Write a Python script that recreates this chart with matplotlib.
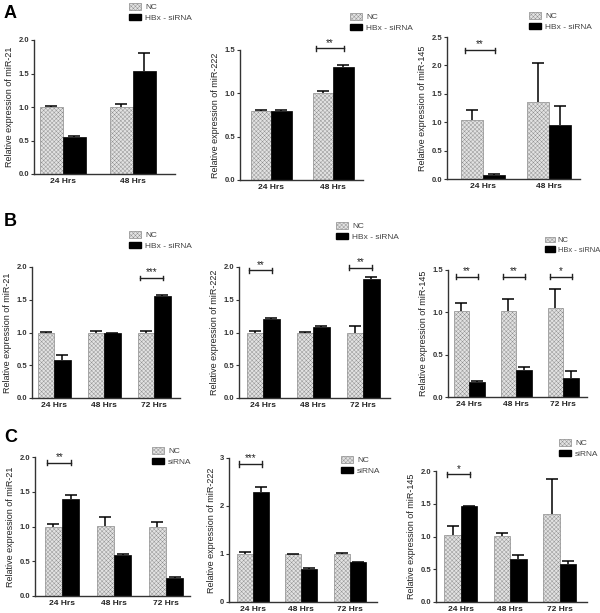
import matplotlib
matplotlib.use('Agg')
import matplotlib.pyplot as plt
from matplotlib.patches import Patch
import numpy as np

plt.rcParams['font.family'] = ['Liberation Sans', 'DejaVu Sans']
plt.rcParams['hatch.linewidth'] = 0.3
plt.rcParams['hatch.color'] = '#a8a8a8'

# ---- data ----
hrs2 = ['24 Hrs', '48 Hrs']
hrs3 = ['24 Hrs', '48 Hrs', '72 Hrs']

# panel A
a21_nc = [1.0, 1.0];   a21_nc_err = [0.01, 0.04]
a21_si = [0.55, 1.53]; a21_si_err = [0.01, 0.28]
a222_nc = [0.80, 1.00]; a222_nc_err = [0.01, 0.03]
a222_si = [0.80, 1.30]; a222_si_err = [0.01, 0.03]
a145_nc = [1.03, 1.35]; a145_nc_err = [0.18, 0.69]
a145_si = [0.07, 0.95]; a145_si_err = [0.01, 0.33]

# panel B
b21_nc = [1.0, 1.0, 1.0];    b21_nc_err = [0.01, 0.02, 0.03]
b21_si = [0.58, 0.99, 1.55]; b21_si_err = [0.07, 0.005, 0.02]
b222_nc = [1.0, 1.0, 1.0];    b222_nc_err = [0.02, 0.01, 0.10]
b222_si = [1.21, 1.08, 1.81]; b222_si_err = [0.01, 0.02, 0.03]
b145_nc = [1.01, 1.02, 1.05]; b145_nc_err = [0.10, 0.14, 0.22]
b145_si = [0.18, 0.32, 0.23]; b145_si_err = [0.01, 0.03, 0.08]

# panel C
c21_nc = [1.0, 1.01, 1.0];   c21_nc_err = [0.03, 0.12, 0.06]
c21_si = [1.40, 0.59, 0.26]; c21_si_err = [0.06, 0.01, 0.01]
c222_nc = [1.0, 1.0, 1.0];    c222_nc_err = [0.05, 0.01, 0.03]
c222_si = [2.30, 0.68, 0.83]; c222_si_err = [0.10, 0.02, 0.01]
c145_nc = [1.02, 1.01, 1.34]; c145_nc_err = [0.14, 0.04, 0.54]
c145_si = [1.46, 0.66, 0.58]; c145_si_err = [0.01, 0.06, 0.05]

W, H = 600, 613
fig = plt.figure(figsize=(6.0, 6.13), dpi=100)
bw = 0.33
nc_face = '#e2e2e2'
nc_edge = '#8c8c8c'


def rect(l, r, t, b):
    return [l / W, 1 - b / H, (r - l) / W, (b - t) / H]


def up_err(ax, x, y, e):
    eb = ax.errorbar(x, y, yerr=[np.zeros(len(y)), e], fmt='none',
                     ecolor='black', elinewidth=1.1, capsize=4, capthick=1.1,
                     zorder=3)
    eb[1][0].set_visible(False)   # hide lower cap


def panel(box, xlim, labels, nc, nce, si, sie, ymax, yticks, ytl, mir,
          sig, legpos, silabel, legfs=6):
    ax = fig.add_axes(rect(*box))
    x = np.arange(len(labels))
    ax.bar(x - bw / 2, nc, bw, color=nc_face, edgecolor=nc_edge,
           linewidth=0.5, hatch='xxxxxxxx', zorder=2)
    ax.bar(x + bw / 2, si, bw, color='black', edgecolor='black',
           linewidth=0.5, zorder=2)
    up_err(ax, x - bw / 2, nc, nce)
    up_err(ax, x + bw / 2, si, sie)
    ax.set_xlim(*xlim)
    ax.set_ylim(0, ymax)
    ax.set_yticks(yticks)
    ax.set_yticklabels(ytl, fontsize=5.5, fontweight='bold', color='#333333')
    ax.set_xticks(x)
    ax.set_xticklabels(labels, fontsize=6, fontweight='bold', color='#222222')
    ax.tick_params(axis='x', length=0, pad=3)
    ax.tick_params(axis='y', length=2.5, width=0.8, pad=1, color='#333333')
    for s in ['top', 'right']:
        ax.spines[s].set_visible(False)
    for s in ['left', 'bottom']:
        ax.spines[s].set_linewidth(1.0)
        ax.spines[s].set_color('#333333')
    ax.set_ylabel('Relative expression of ' + mir, fontsize=6.5,
                  color='#222222', labelpad=3)
    for i, yb, stars in sig:
        x0, x1 = i - 0.85 * bw, i + 0.55 * bw
        ax.plot([x0, x1], [yb, yb], color='#222222', lw=1.0, clip_on=False)
        d = ymax * 0.018
        ax.plot([x0, x0], [yb - d, yb + d], color='#222222', lw=1.0, clip_on=False)
        ax.plot([x1, x1], [yb - d, yb + d], color='#222222', lw=1.0, clip_on=False)
        ax.text((x0 + x1) / 2, yb + ymax * 0.005, stars, ha='center',
                va='bottom', fontsize=7, color='#222222')
    handles = [Patch(facecolor=nc_face, edgecolor=nc_edge, hatch='xxxxxxxx',
                     linewidth=0.5, label='NC'),
               Patch(facecolor='black', edgecolor='black', label=silabel)]
    fig.legend(handles=handles, loc='upper left',
               bbox_to_anchor=(legpos[0] / W, 1 - legpos[1] / H),
               frameon=False, fontsize=legfs, handlelength=1.4 * 6 / legfs * 0.9
               if legfs < 6 else 1.4, handleheight=0.8,
               handletextpad=0.5 if legfs >= 6 else 0.35, labelspacing=0.3,
               borderpad=0, labelcolor='#444444')
    return ax


panel((34, 175, 40, 174), (-0.41, 1.6), hrs2, a21_nc, a21_nc_err, a21_si,
      a21_si_err, 2.0, [0, 0.5, 1.0, 1.5, 2.0], ['0.0', '0.5', '1.0', '1.5', '2.0'],
      'miR-21', [], (125, -1), 'HBx - siRNA')
panel((240, 363, 50, 180), (-0.5, 1.48), hrs2, a222_nc, a222_nc_err, a222_si,
      a222_si_err, 1.5, [0, 0.5, 1.0, 1.5], ['0.0', '0.5', '1.0', '1.5'],
      'miR-222', [(1, 1.52, '**')], (346, 9), 'HBx - siRNA')
panel((447, 580, 37, 179), (-0.55, 1.47), hrs2, a145_nc, a145_nc_err, a145_si,
      a145_si_err, 2.5, [0, 0.5, 1.0, 1.5, 2.0, 2.5],
      ['0.0', '0.5', '1.0', '1.5', '2.0', '2.5'],
      'miR-145', [(0, 2.27, '**')], (525, 8), 'HBx - siRNA')

panel((32, 180, 267, 398), (-0.44, 2.52), hrs3, b21_nc, b21_nc_err, b21_si,
      b21_si_err, 2.0, [0, 0.5, 1.0, 1.5, 2.0], ['0.0', '0.5', '1.0', '1.5', '2.0'],
      'miR-21', [(2, 1.83, '***')], (125, 227), 'HBx - siRNA')
panel((239, 390, 267, 398), (-0.48, 2.54), hrs3, b222_nc, b222_nc_err, b222_si,
      b222_si_err, 2.0, [0, 0.5, 1.0, 1.5, 2.0], ['0.0', '0.5', '1.0', '1.5', '2.0'],
      'miR-222', [(0, 1.95, '**'), (2, 1.99, '**')], (332, 218), 'HBx - siRNA')
panel((448, 587, 270, 397), (-0.45, 2.51), hrs3, b145_nc, b145_nc_err, b145_si,
      b145_si_err, 1.5, [0, 0.5, 1.0, 1.5], ['0.0', '0.5', '1.0', '1.5'],
      'miR-145', [(0, 1.42, '**'), (1, 1.42, '**'), (2, 1.42, '*')],
      (541, 233), 'HBx - siRNA', legfs=5.4)

panel((35, 190, 457, 596), (-0.52, 2.46), hrs3, c21_nc, c21_nc_err, c21_si,
      c21_si_err, 2.0, [0, 0.5, 1.0, 1.5, 2.0], ['0.0', '0.5', '1.0', '1.5', '2.0'],
      'miR-21', [(0, 1.92, '**')], (148, 443), 'siRNA')
panel((229, 377, 458, 602), (-0.49, 2.56), hrs3, c222_nc, c222_nc_err, c222_si,
      c222_si_err, 3.0, [0, 1, 2, 3], ['0', '1', '2', '3'],
      'miR-222', [(0, 2.875, '***')], (337, 452), 'siRNA')
panel((436, 587, 471, 602), (-0.5, 2.55), hrs3, c145_nc, c145_nc_err, c145_si,
      c145_si_err, 2.0, [0, 0.5, 1.0, 1.5, 2.0], ['0.0', '0.5', '1.0', '1.5', '2.0'],
      'miR-145', [(0, 1.95, '*')], (555, 435), 'siRNA')

for lab, px, py in [('A', 4, 14), ('B', 4, 222), ('C', 4, 438)]:
    fig.text(px / W, 1 - py / H, lab, fontsize=13, fontweight='bold',
             ha='left', va='center')

fig.savefig('out.png', dpi=100)
